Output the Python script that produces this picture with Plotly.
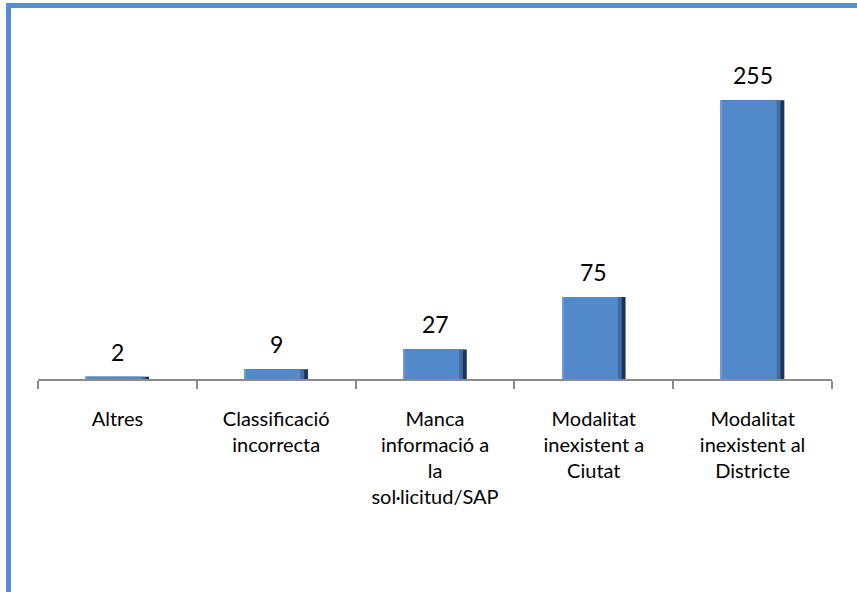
import plotly.graph_objects as go

categories = ["Altres", "Classificació<br>incorrecta",
              "Manca<br>informació a<br>la<br>sol·licitud/SAP",
              "Modalitat<br>inexistent a<br>Ciutat",
              "Modalitat<br>inexistent al<br>Districte"]
values = [2, 9, 27, 75, 255]
value_labels = ["2", "9", "27", "75", "255"]

W, H = 857, 592
L, R, T, B = 38, 25, 51, 213
pw, ph = W - L - R, H - T - B
FONT = "Lato, Open Sans, sans-serif"

def px_x(x):
    return (x - L) / pw

def px_y(y):
    return 1 - (y - T) / ph

BW = 0.4
edge = 0.04

fig = go.Figure()
# dark base (right bevel)
fig.add_trace(go.Bar(
    x=categories, y=values, width=BW, offset=-BW / 2,
    marker=dict(color="#1B3556", line=dict(width=0)), hoverinfo="skip",
))
# mid shade
fig.add_trace(go.Bar(
    x=categories, y=values, width=BW - edge * 0.6, offset=-BW / 2,
    marker=dict(color="#3E6CA3", line=dict(width=0)), hoverinfo="skip",
))
# body
fig.add_trace(go.Bar(
    x=categories, y=values, width=BW - edge * 1.2, offset=-BW / 2,
    marker=dict(color="#5289CB", line=dict(width=0)), hoverinfo="skip",
))
# left light edge
fig.add_trace(go.Bar(
    x=categories, y=values, width=0.008, offset=-BW / 2,
    marker=dict(color="#6E9BD3", line=dict(width=0)), hoverinfo="skip",
))

annotations = [
    dict(x=c, y=v, xref="x", yref="y", text=t, showarrow=False,
         yanchor="middle", yshift=25,
         font=dict(family=FONT, size=23, color="#000"))
    for c, v, t in zip(categories, values, value_labels)
]

fig.update_layout(
    width=W, height=H, barmode="overlay",
    margin=dict(l=L, r=R, t=T, b=B),
    paper_bgcolor="white", plot_bgcolor="white",
    showlegend=False,
    font=dict(family=FONT, size=20, color="#000"),
    xaxis=dict(showline=True, linecolor="#8C8C8C", linewidth=1.5,
               ticks="outside", tickson="boundaries", ticklen=8,
               tickcolor="#8C8C8C", tickwidth=1.5,
               tickfont=dict(size=20), ticklabelstandoff=21),
    yaxis=dict(range=[0, 300], visible=False, showgrid=False),
    annotations=annotations,
    shapes=[
        dict(type="line", xref="paper", yref="paper",
             x0=px_x(6), x1=px_x(900), y0=px_y(5.5), y1=px_y(5.5),
             line=dict(color="#558ED5", width=5)),
        dict(type="line", xref="paper", yref="paper",
             x0=px_x(8.5), x1=px_x(8.5), y0=px_y(3), y1=px_y(650),
             line=dict(color="#558ED5", width=5)),
    ],
)

fig.write_html("out.html", config={"displayModeBar": False},
               post_script="document.body.style.margin='0';")
